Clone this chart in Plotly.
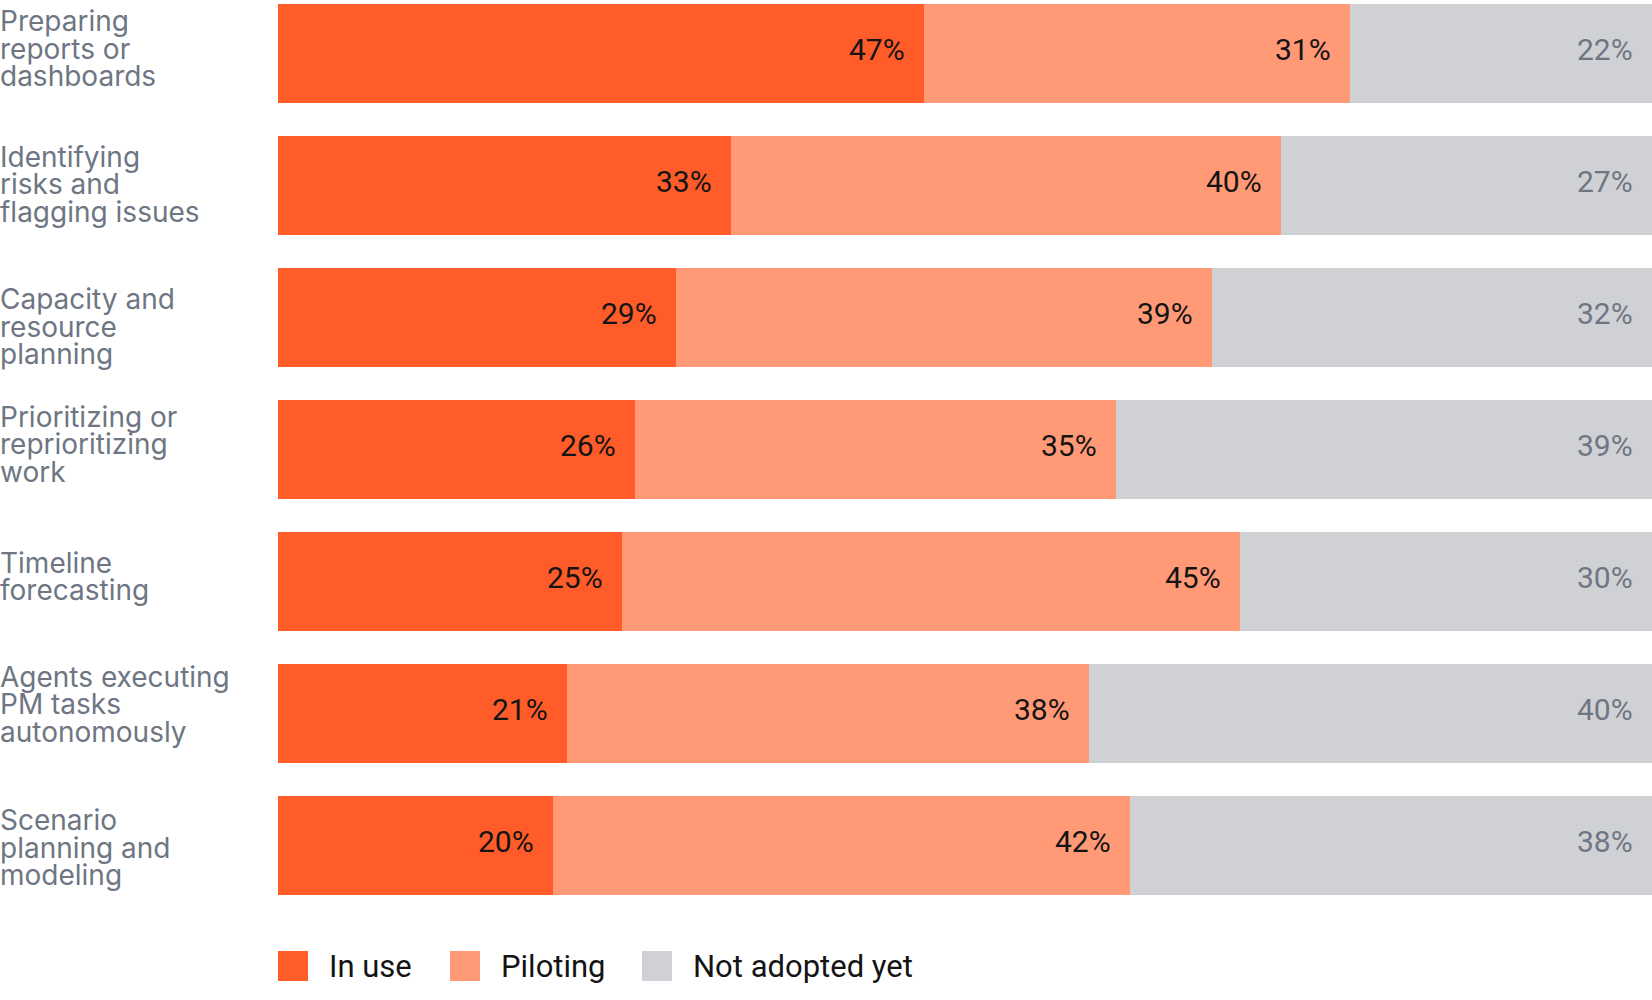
import plotly.graph_objects as go

# survey results, % of respondents
tasks = [
    "Preparing reports or dashboards",
    "Identifying risks and flagging issues",
    "Capacity and resource planning",
    "Prioritizing or reprioritizing work",
    "Timeline forecasting",
    "Agents executing PM tasks autonomously",
    "Scenario planning and modeling",
]
task_lines = [
    ["Preparing", "reports or", "dashboards"],
    ["Identifying", "risks and", "flagging issues"],
    ["Capacity and", "resource", "planning"],
    ["Prioritizing or", "reprioritizing", "work"],
    ["Timeline", "forecasting"],
    ["Agents executing", "PM tasks", "autonomously"],
    ["Scenario", "planning and", "modeling"],
]
in_use = [47, 33, 29, 26, 25, 21, 20]
piloting = [31, 40, 39, 35, 45, 38, 42]
not_adopted = [22, 27, 32, 39, 30, 40, 38]
series_names = ["In use", "Piloting", "Not adopted yet"]

C_USE = "#ff5c29"
C_PILOT = "#ff9976"
C_NOT = "#d0d1d5"
GREY_TXT = "#6e7683"
DARK_TXT = "#141414"

W, H = 1652, 1000
ML, MR, MT, MB = 278, 0, 4, 105

# grey segment fills the rest of the row
rest = [100 - a - b for a, b in zip(in_use, piloting)]

fig = go.Figure()
for name, vals, col in [("In use", in_use, C_USE),
                        ("Piloting", piloting, C_PILOT),
                        ("Not adopted yet", rest, C_NOT)]:
    fig.add_trace(go.Bar(
        y=tasks, x=vals, name=name, orientation="h",
        marker=dict(color=col, line=dict(width=0)),
        hoverinfo="skip", showlegend=False,
    ))

annos = []
for i, t in enumerate(tasks):
    ends = [in_use[i], in_use[i] + piloting[i], 100]
    vals = [in_use[i], piloting[i], not_adopted[i]]
    for k in range(3):
        annos.append(dict(
            x=ends[k], y=t, xref="x", yref="y",
            text=f"{vals[k]}%", showarrow=False,
            xanchor="right", yanchor="middle",
            xshift=-17, yshift=4,
            font=dict(family="Roboto", size=30,
                      color=GREY_TXT if k == 2 else DARK_TXT),
        ))

# category labels, one annotation per line (tight line height)
line_h = 27.5
label_nudge = [4, 7.5, 18, 3.5, 4, -0.5, 11]
for i, lines in enumerate(task_lines):
    n = len(lines)
    for k, ln in enumerate(lines):
        base = label_nudge[i] + (k - (n - 1) / 2) * line_h
        annos.append(dict(
            x=0, y=tasks[i], xref="paper", yref="y",
            text=ln, showarrow=False,
            xanchor="left", yanchor="middle",
            xshift=-ML - 2, yshift=-(base - 9),
            font=dict(family="Inter", size=28, color=GREY_TXT),
        ))

# legend drawn by hand so the swatches can be large
plot_w = W - ML - MR
plot_h = H - MT - MB
leg_x = [278, 450, 642]
leg_cy = 966
shapes = []
for name, col, lx in zip(series_names, [C_USE, C_PILOT, C_NOT], leg_x):
    shapes.append(dict(type="rect", xref="paper", yref="paper",
                       x0=(lx - ML) / plot_w, x1=(lx + 30 - ML) / plot_w,
                       y0=(H - MB - (leg_cy - 15)) / plot_h,
                       y1=(H - MB - (leg_cy + 15)) / plot_h,
                       fillcolor=col, line=dict(width=0)))
    annos.append(dict(
        x=(lx + 49 - ML) / plot_w, y=(H - MB - leg_cy) / plot_h,
        xref="paper", yref="paper", text=name, showarrow=False,
        xanchor="left", yanchor="middle",
        font=dict(family="Roboto", size=31, color=DARK_TXT),
    ))

fig.update_layout(
    width=W, height=H,
    margin=dict(l=ML, r=MR, t=MT, b=MB),
    barmode="stack", bargap=0.25,
    plot_bgcolor="white", paper_bgcolor="white",
    xaxis=dict(range=[0, 100], visible=False, fixedrange=True),
    yaxis=dict(range=[len(tasks) - 0.625, -0.375], visible=False,
               type="category", fixedrange=True),
    annotations=annos, shapes=shapes,
    showlegend=False,
)

fig.write_html("out.html", config={"displayModeBar": False},
               post_script="document.body.style.margin='0px';")
